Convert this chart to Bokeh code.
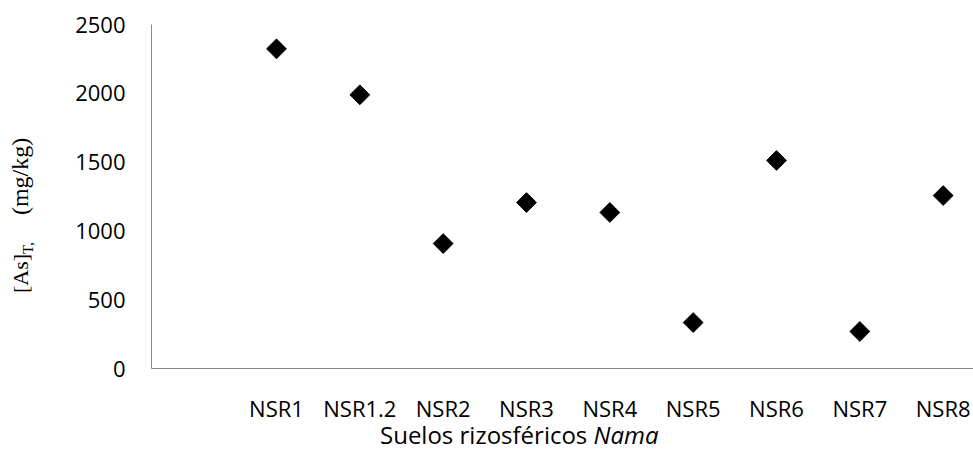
import math
from bokeh.plotting import figure
from bokeh.models import Range1d, FixedTicker, Div
from bokeh.layouts import row, column
from bokeh.embed import file_html
from bokeh.resources import INLINE

# ---- data ----
categories = ["NSR1", "NSR1.2", "NSR2", "NSR3", "NSR4", "NSR5", "NSR6", "NSR7", "NSR8"]
as_total = [2323, 1989, 908, 1206, 1134, 334, 1512, 269, 1257]
y_ticks = [0, 500, 1000, 1500, 2000, 2500]
x_title_regular = "Suelos rizosféricos"
x_title_italic = "Nama"
y_title_main = "[As]"
y_title_sub = "T,"
y_title_unit = "(mg/kg)"

positions = list(range(1, len(categories) + 1))

p = figure(width=913, height=425, output_backend="svg", toolbar_location=None,
           x_range=Range1d(-0.5, 9.364), y_range=Range1d(0, 2500),
           min_border_left=91, min_border_right=0, min_border_top=24, min_border_bottom=56,
           margin=0)
p.outline_line_color = None
p.grid.visible = False
p.background_fill_color = "white"
p.border_fill_color = "white"

p.scatter(positions, as_total, marker="square", size=14, angle=math.pi / 4,
          fill_color="black", line_color="black")

axis_color = "#898989"
font = "Open Sans"

xa = p.xaxis[0]
xa.ticker = FixedTicker(ticks=positions)
xa.major_label_overrides = {pos: lab for pos, lab in zip(positions, categories)}
xa.axis_line_color = axis_color
xa.major_tick_line_color = None
xa.minor_tick_line_color = None
xa.major_tick_out = 0
xa.major_label_standoff = 24
xa.major_label_text_font = font
xa.major_label_text_font_size = "22px"
xa.major_label_text_color = "black"

ya = p.yaxis[0]
ya.ticker = FixedTicker(ticks=y_ticks)
ya.axis_line_color = axis_color
ya.major_tick_line_color = None
ya.minor_tick_line_color = None
ya.major_tick_out = 0
ya.major_label_standoff = 26
ya.major_label_text_font = font
ya.major_label_text_font_size = "22px"
ya.major_label_text_color = "black"

ydiv = Div(width=60, height=425, margin=0, styles={"overflow": "visible"}, text=(
    '<div style="position:absolute; left:8px; top:293px; transform:rotate(-90deg); '
    'transform-origin:0 0; white-space:nowrap; line-height:24px; font-size:24px; '
    'color:black; font-family:\'Liberation Serif\';">'
    f'<span style="font-size:22px;">{y_title_main}</span>'
    f'<span style="font-size:15px; position:relative; top:5px;">{y_title_sub}</span>'
    f'<span style="font-size:24px; margin-left:27px;">{y_title_unit}</span>'
    '</div>'
))

xdiv = Div(width=973, height=26, margin=0, styles={"overflow": "visible"}, text=(
    f'<div style="position:absolute; left:380px; top:-2px; white-space:nowrap; line-height:1; '
    f'color:black; font-family:\'Open Sans\'; font-size:24px;">'
    f'{x_title_regular} <i>{x_title_italic}</i></div>'
))

layout = column(row(ydiv, p, margin=0), xdiv, margin=0)
open("out.html", "w").write(file_html(layout, INLINE))
